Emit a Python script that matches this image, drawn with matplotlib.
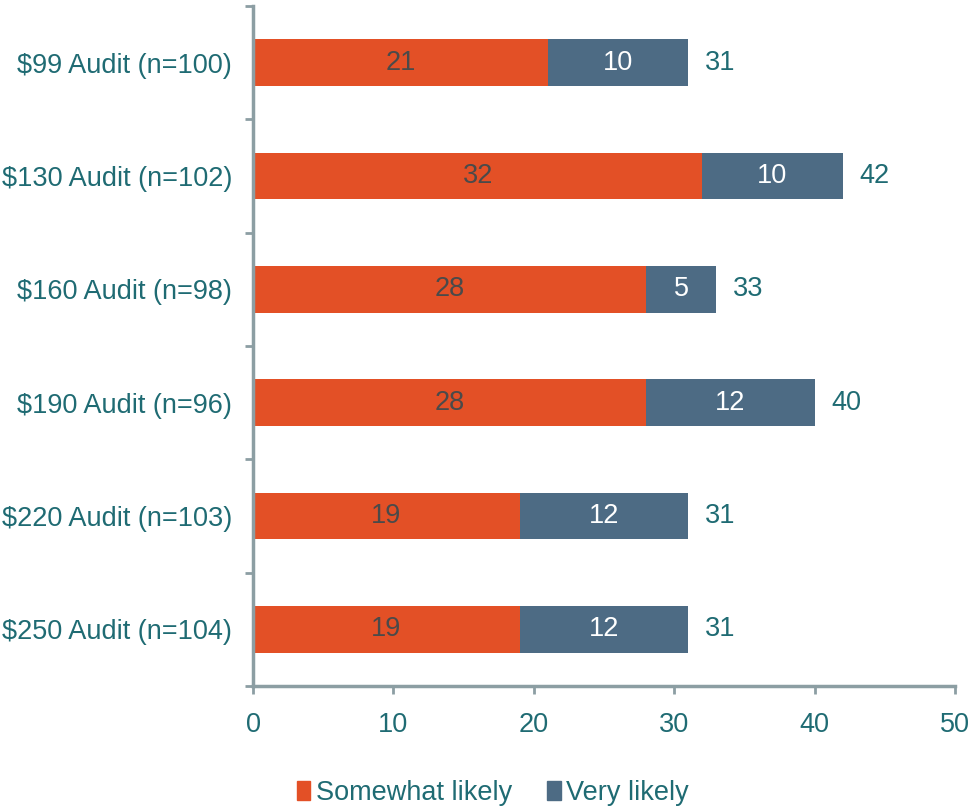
import matplotlib.pyplot as plt
import numpy as np
from matplotlib.patches import Patch

# data
categories = ['$99 Audit (n=100)', '$130 Audit (n=102)', '$160 Audit (n=98)',
              '$190 Audit (n=96)', '$220 Audit (n=103)', '$250 Audit (n=104)']
somewhat_likely = [21, 32, 28, 28, 19, 19]
very_likely = [10, 10, 5, 12, 12, 12]
x_ticks = [0, 10, 20, 30, 40, 50]

ORANGE = '#E35026'
SLATE = '#4D6B84'
TEAL = '#1F6B73'
AXIS = '#8C9EA3'
FS = 19.5

plt.rcParams['font.family'] = ['Liberation Sans', 'DejaVu Sans']

fig = plt.figure(figsize=(9.72, 8.09), dpi=100)
ax = fig.add_axes([0.2603, 0.152, 0.9825 - 0.2603, 0.9926 - 0.152])

y = np.arange(len(categories))
some = np.array(somewhat_likely)
very = np.array(very_likely)
total = some + very

ax.barh(y, some, height=0.41, color=ORANGE)
ax.barh(y, very, left=some, height=0.41, color=SLATE)

for i in range(len(categories)):
    ax.text(some[i] / 2, y[i], str(some[i]), ha='center', va='center',
            color='#4A4A4A', fontsize=FS)
    ax.text(some[i] + very[i] / 2, y[i], str(very[i]), ha='center', va='center',
            color='white', fontsize=FS)
    ax.annotate(str(total[i]), (total[i], y[i]), xytext=(12, 0),
                textcoords='offset points', ha='left', va='center',
                color=TEAL, fontsize=FS)

ax.set_xlim(0, 50)
ax.set_ylim(len(categories) - 0.5, -0.5)

ax.set_xticks(x_ticks)
ax.set_xticklabels([str(t) for t in x_ticks])
ax.tick_params(axis='x', direction='out', length=6, width=2, color=AXIS,
               labelcolor=TEAL, labelsize=FS, pad=13)

# boundaries as major ticks, category names on minor ticks
ax.set_yticks(np.arange(len(categories) + 1) - 0.5)
ax.set_yticklabels([])
ax.set_yticks(y, minor=True)
ax.set_yticklabels(categories, minor=True)
ax.tick_params(axis='y', which='major', direction='out', length=6, width=2, color=AXIS)
ax.tick_params(axis='y', which='minor', length=0, labelcolor=TEAL,
               labelsize=FS, pad=15)

for side in ['top', 'right']:
    ax.spines[side].set_visible(False)
for side in ['left', 'bottom']:
    ax.spines[side].set_color(AXIS)
    ax.spines[side].set_linewidth(2.5)

handles = [Patch(color=ORANGE, label='Somewhat likely'),
           Patch(color=SLATE, label='Very likely')]
fig.legend(handles=handles, loc='center', bbox_to_anchor=(0.507, 0.02), ncol=2,
           frameon=False, fontsize=FS, handlelength=0.5, handleheight=0.7,
           handletextpad=0.2, columnspacing=1.3, labelcolor=TEAL,
           borderpad=0)

fig.savefig('out.png', dpi=100)
